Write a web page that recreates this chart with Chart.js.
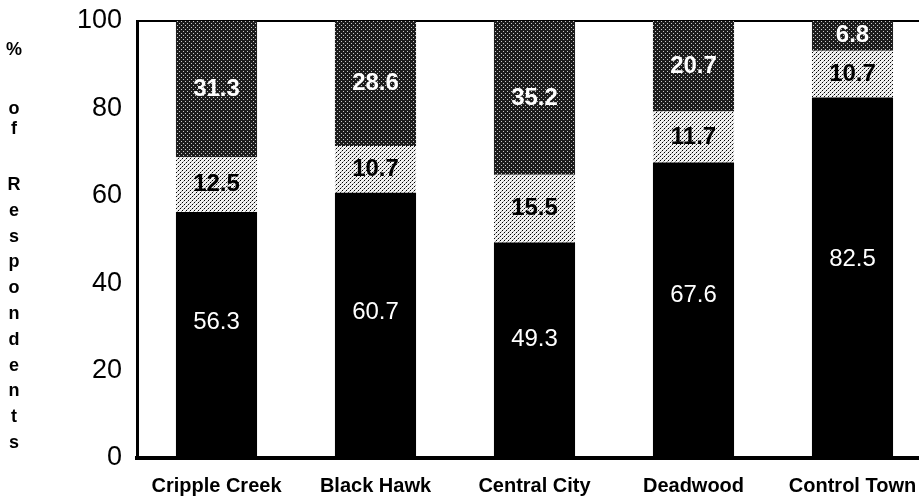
<!DOCTYPE html>
<html><head><meta charset="utf-8">
<script src="https://cdn.jsdelivr.net/npm/chart.js@4.4.0/dist/chart.umd.min.js"></script>
<style>html,body{margin:0;padding:0;background:#fff;overflow:hidden;width:919px;height:498px}canvas{display:block}</style>
</head><body>
<canvas id="c" width="935" height="498" style="width:935px;height:498px"></canvas>
<script>
// ---- data ----
const categories = ['Cripple Creek', 'Black Hawk', 'Central City', 'Deadwood', 'Control Town'];
const lowerShare = [56.3, 60.7, 49.3, 67.6, 82.5];
const middleShare = [12.5, 10.7, 15.5, 11.7, 10.7];
const upperShare = [31.3, 28.6, 35.2, 20.7, 6.8];
const yTicks = [0, 20, 40, 60, 80, 100];
const yAxisTitle = '% of Respondents';

const FONT = '"Liberation Sans", Arial, Helvetica, sans-serif';

function makePattern(bg, dots) {
  const c = document.createElement('canvas');
  c.width = 4; c.height = 4;
  const x = c.getContext('2d');
  x.fillStyle = bg; x.fillRect(0, 0, 4, 4);
  dots.forEach(d => { x.fillStyle = d[2]; x.fillRect(d[0], d[1], 1, 1); });
  return x.createPattern(c, 'repeat');
}
const darkPattern = makePattern('#1c1c1c', [[1, 1, '#c8c8c8'], [3, 3, '#c8c8c8']]);
const lightPattern = makePattern('#f2f2f2', [[0, 0, '#000'], [2, 2, '#000'], [1, 3, '#999'], [3, 1, '#999']]);

const labelStyles = [
  { color: '#fff', weight: 'normal', anchor: 0.55 },
  { color: '#000', weight: 'bold', anchor: 0.5 },
  { color: '#fff', weight: 'bold', anchor: 0.5 }
];

const segmentLabels = {
  id: 'segmentLabels',
  afterDatasetsDraw(chart) {
    const ctx = chart.ctx;
    chart.data.datasets.forEach((ds, i) => {
      const meta = chart.getDatasetMeta(i);
      const st = labelStyles[i];
      meta.data.forEach((el, j) => {
        const v = ds.data[j];
        const y = el.base + (el.y - el.base) * st.anchor;
        ctx.save();
        ctx.font = st.weight + ' 24px ' + FONT;
        ctx.fillStyle = st.color;
        ctx.textAlign = 'center';
        ctx.textBaseline = 'middle';
        ctx.fillText(v.toFixed(1), el.x, y);
        ctx.restore();
      });
    });
  }
};

const verticalTitle = {
  id: 'verticalTitle',
  afterDraw(chart) {
    const ctx = chart.ctx;
    const words = yAxisTitle.split(' ');
    const starts = [50, 109, 185];
    const steps = [20, 20, 25.8];
    ctx.save();
    ctx.font = 'bold 18px ' + FONT;
    ctx.fillStyle = '#000';
    ctx.textAlign = 'center';
    ctx.textBaseline = 'middle';
    words.forEach((w, wi) => {
      [...w].forEach((ch, ci) => ctx.fillText(ch, 14, starts[wi] + ci * steps[wi]));
    });
    ctx.restore();
  }
};

new Chart(document.getElementById('c'), {
  type: 'bar',
  data: {
    labels: categories,
    datasets: [
      { label: 'Lower', data: lowerShare, backgroundColor: '#000' },
      { label: 'Middle', data: middleShare, backgroundColor: lightPattern },
      { label: 'Upper', data: upperShare, backgroundColor: darkPattern }
    ]
  },
  options: {
    responsive: false,
    animation: false,
    devicePixelRatio: 1,
    layout: { padding: { top: 21, right: 3, left: 0, bottom: 0 } },
    datasets: { bar: { categoryPercentage: 1, barPercentage: 0.51, borderWidth: 0 } },
    plugins: { legend: { display: false }, tooltip: { enabled: false } },
    scales: {
      x: {
        stacked: true,
        grid: { display: false },
        border: { display: true, color: '#000', width: 4 },
        ticks: { color: '#000', font: { family: FONT, size: 20, weight: 'bold' }, padding: 8, maxRotation: 0, autoSkip: false },
        afterFit(s) { s.height = 40; s.paddingLeft = 0; s.paddingRight = 0; }
      },
      y: {
        stacked: true,
        min: 0, max: 100,
        afterBuildTicks(s) { s.ticks = yTicks.map(v => ({ value: v })); },
        grid: {
          drawTicks: false,
          color: c => (c.tick && c.tick.value === 100) ? '#000' : 'rgba(0,0,0,0)',
          lineWidth: c => (c.tick && c.tick.value === 100) ? 2 : 0
        },
        border: { display: true, color: '#000', width: 3 },
        ticks: { color: '#000', font: { family: FONT, size: 27 }, padding: 15 },
        afterFit(s) { s.width = 137; s.paddingTop = 0; s.paddingBottom = 0; }
      }
    }
  },
  plugins: [segmentLabels, verticalTitle]
});
</script>
</body></html>
